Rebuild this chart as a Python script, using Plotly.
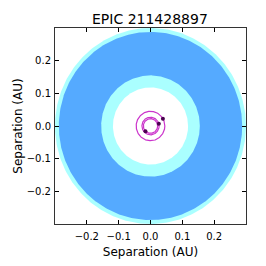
import numpy as np
import plotly.graph_objects as go

title = "EPIC 211428897"
# habitable zone boundaries (AU)
hz_optimistic = [0.118, 0.300]
hz_conservative = [0.155, 0.288]
# planet orbits (AU) and orbital phase (deg)
orbit_radii = [0.0225, 0.027, 0.045]
planet_phase = [225, 14, 30]
tick_vals = [-0.2, -0.1, 0.0, 0.1, 0.2]

theta = np.linspace(0, 2 * np.pi, 361)


def disk(r, color):
    return go.Scatter(x=r * np.cos(theta), y=r * np.sin(theta), mode="lines",
                      fill="toself", fillcolor=color, line=dict(width=0, color=color),
                      hoverinfo="skip", showlegend=False)


fig = go.Figure()
fig.add_trace(disk(hz_optimistic[1], "#aaffff"))
fig.add_trace(disk(hz_conservative[1], "#55aaff"))
fig.add_trace(disk(hz_conservative[0], "#aaffff"))
fig.add_trace(disk(hz_optimistic[0], "#ffffff"))

for r in orbit_radii:
    fig.add_trace(go.Scatter(x=r * np.cos(theta), y=r * np.sin(theta), mode="lines",
                             line=dict(width=1.2, color="rgba(190,0,190,0.8)"),
                             hoverinfo="skip", showlegend=False))

ph = np.radians(planet_phase)
r_arr = np.array(orbit_radii)
fig.add_trace(go.Scatter(x=r_arr * np.cos(ph), y=r_arr * np.sin(ph), mode="markers",
                         marker=dict(size=4, color="#4a0050"), showlegend=False))

axis_common = dict(range=[-0.3, 0.3], tickvals=tick_vals, tickformat=".1f",
                   ticks="inside", ticklen=4, tickcolor="black", tickwidth=1,
                   showline=True, linecolor="#333333", linewidth=1, mirror="allticks",
                   showgrid=False, zeroline=False, automargin=False,
                   tickfont=dict(family="DejaVu Sans", size=10, color="black"),
                   title_font=dict(family="DejaVu Sans", size=12, color="black"))

fig.update_layout(
    width=258, height=258,
    margin=dict(l=47, r=20, t=20, b=42),
    paper_bgcolor="white", plot_bgcolor="white",
    title=dict(text=title, x=0.55, xanchor="center", y=0.975, yanchor="top",
               font=dict(family="DejaVu Sans", size=14, color="black")),
    xaxis=dict(axis_common, ticklabelstandoff=3,
               title=dict(text="Separation (AU)", standoff=6)),
    yaxis=dict(axis_common, ticklabelstandoff=1,
               title=dict(text="Separation (AU)", standoff=1)),
)

fig.write_html("out.html")
